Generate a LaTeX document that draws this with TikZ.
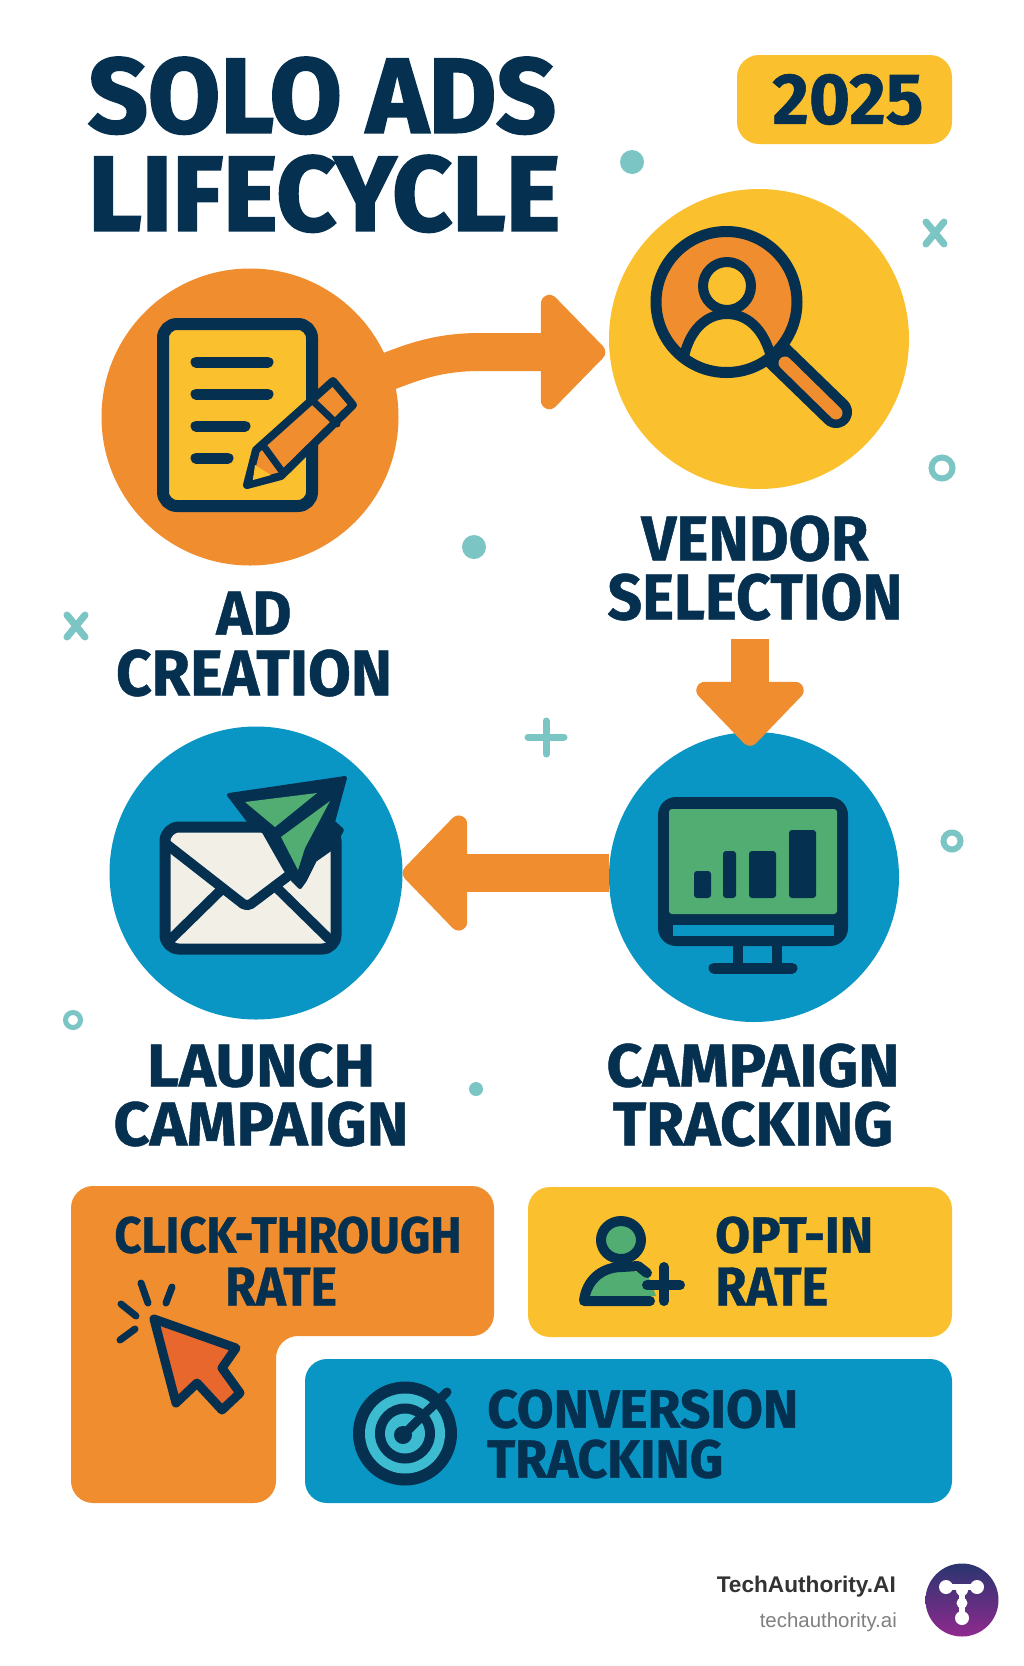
\documentclass[tikz,border=0pt]{standalone}
\usepackage{graphicx}
\usepackage{fontspec}
\usepackage{xcolor}
\setmainfont{Liberation Sans}
\newfontfamily\headfont{Fira Sans Bold}[FakeBold=0.8]
\newfontfamily\bighead{Fira Sans Bold}[FakeBold=2]
\usetikzlibrary{arrows.meta}
\definecolor{navy}{HTML}{05304F}
\definecolor{sunset}{HTML}{F08D2E}
\definecolor{amber}{HTML}{FBC02D}
\definecolor{ocean}{HTML}{0A96C4}
\definecolor{mint}{HTML}{7CC5C5}
\definecolor{leaf}{HTML}{52AD72}
\definecolor{paper}{HTML}{F2F0E6}
\definecolor{ember}{HTML}{E8672D}
\definecolor{aqua}{HTML}{3DBBD0}
\definecolor{logotop}{HTML}{2A3570}
\definecolor{logobottom}{HTML}{8F2A8E}
\newcommand{\capline}[3]{\resizebox*{#1pt}{#2pt}{\headfont #3}}
\newcommand{\bigline}[3]{\resizebox*{#1pt}{#2pt}{\bighead #3}}

\begin{document}
\begin{tikzpicture}[x=1pt,y=-1pt,
    stagedisc/.style={shape=circle, inner sep=0pt, minimum size=#1},
    tilebox/.style={shape=rectangle, rounded corners=22pt, inner sep=0pt},
    headtext/.style={inner sep=0pt, align=center, text=navy},
    lefttext/.style={inner sep=0pt, align=left, text=navy, anchor=west},
    flow/.style={draw=sunset, line width=38pt,
        -{Triangle[length=68pt,width=#1,round]}},
    iconline/.style={draw=navy, line width=#1, line join=round, line cap=round},
    speck/.style={draw=mint, line width=7pt, line cap=round}]

    \fill[white] (0,0) rectangle (1024,1666);
    \useasboundingbox (0,0) rectangle (1024,1666);

    \node[headtext, align=left, anchor=north west] (title) at (88,57)
        {\bigline{468}{77}{SOLO ADS}\\[20pt]\bigline{472}{77}{LIFECYCLE}};
    \node[tilebox, fill=amber, minimum width=215pt, minimum height=89pt] (yearbox) at (844.5,99.5)
        {\hspace*{7pt}\textcolor{navy}{\capline{151}{51}{2025}}};

    \node[stagedisc=297pt, fill=sunset] (adcircle) at (250,417) {};
    \node[stagedisc=300pt, fill=amber] (vendorcircle) at (759,339) {};
    \node[stagedisc=293pt, fill=ocean] (launchcircle) at (256,873) {};
    \node[stagedisc=290pt, fill=ocean] (trackcircle) at (754,877) {};

    \node[headtext] (adlabel) at (254,644) {\capline{75}{43}{AD}\\[14pt]\capline{276}{47}{CREATION}};
    \node[headtext] (vendorlabel) at (755,568) {\capline{227}{46}{VENDOR}\\[11pt]\capline{295}{47}{SELECTION}};
    \node[headtext] (launchlabel) at (261,1095) {\capline{228}{44}{LAUNCH}\\[13pt]\capline{295}{45}{CAMPAIGN}};
    \node[headtext] (tracklabel) at (753,1095) {\capline{293}{44}{CAMPAIGN}\\[13pt]\capline{280}{45}{TRACKING}};

    \coordinate (downstart) at (750,639);
    \draw[flow=135pt] ([xshift=-8pt,yshift=6pt]adcircle.15) .. controls (415,361) and (440,352) .. (480,352) -- ([xshift=-4pt]vendorcircle.185);
    \draw[flow=126pt] (downstart) -- ([xshift=-4pt,yshift=-14pt]trackcircle.north);
    \draw[flow=136pt] (trackcircle.west |- launchcircle.east) -- (launchcircle.east);

    \foreach \px/\py/\pr in {632/162/12, 474/547/12, 476/1089/7}
        \fill[mint] (\px,\py) circle (\pr pt);
    \foreach \px/\py/\pr/\pw in {942/468/10.5/6, 952/841/8.5/6, 73/1020/7.5/5}
        \draw[mint, line width=\pw pt] (\px,\py) circle (\pr pt);
    \foreach \px/\py in {935/233, 76/626} {
        \draw[speck] (\px-9,\py-11) -- (\px+9,\py+11);
        \draw[speck] (\px+9,\py-11) -- (\px-9,\py+11);
    }
    \draw[speck] (528,737) -- (564,737);
    \draw[speck] (546,721) -- (546,754);

    \draw[iconline=12pt, fill=amber, rounded corners=14pt] (163,324) rectangle (312,506);
    \foreach \ly/\lx in {362/268, 394/268, 426/245, 458/228}
        \draw[iconline=11pt] (196,\ly) -- (\lx,\ly);
    \draw[iconline=8pt, fill=sunset] (247,485) -- (256,450) -- (333,381) -- (353,405) -- (281,476) -- cycle;
    \fill[amber] (255,465) -- (271,475) -- (253,480) -- cycle;
    \draw[iconline=7pt] (265,448) -- (281,470);
    \draw[iconline=7pt] (312,400) -- (337,424);

    \draw[iconline=32pt] (772,350) -- (836,412);
    \draw[draw=sunset, line width=13pt, line cap=round] (785,363) -- (836,413);
    \fill[sunset] (726.5,302) circle (72pt);
    \begin{scope}
        \clip (726.5,302) circle (72pt);
        \draw[iconline=10pt, fill=amber] (683,362) .. controls (687,335) and (703,314) .. (727,314)
            .. controls (751,314) and (767,335) .. (772,362) -- (790,400) -- (670,400) -- cycle;
    \end{scope}
    \draw[iconline=10pt, fill=amber] (727,286) circle (24pt);
    \draw[iconline=11pt] (726.5,302) circle (70.5pt);

    \draw[iconline=11pt, fill=paper, rounded corners=14pt] (165,827) rectangle (336,949);
    \draw[iconline=10pt, rounded corners=5pt] (165,843) -- (247,907) -- (296,870);
    \draw[iconline=10pt] (172,938) -- (222,889);
    \draw[iconline=10pt] (328,938) -- (276,887);
    \draw[iconline=4pt, fill=navy] (229,795) -- (345,778) -- (333,822) -- (342,830) -- (332,848) -- (315,860) -- (305,880)
        -- (300,887) -- (293,880) -- (285,869) -- (264,832) -- (248,820) -- cycle;
    \fill[leaf] (245,802) -- (317,793) -- (275,827) -- cycle;
    \fill[leaf] (330,801) -- (281,837) -- (298,870) -- (305,848) -- cycle;

    \fill[navy, rounded corners=18pt] (658,797) rectangle (848,946);
    \fill[leaf, rounded corners=3pt] (669,809) rectangle (837,914);
    \fill[ocean] (673,925) rectangle (834,936);
    \foreach \bl/\bt/\br in {694/871/711, 723/851/736, 749/851/776, 789/830/816}
        \fill[navy, rounded corners=3pt] (\bl,\bt) rectangle (\br,898);
    \draw[iconline=10pt] (738,946) -- (738,964);
    \draw[iconline=10pt] (777,946) -- (777,964);
    \draw[iconline=11pt] (714,968) -- (792,968);

    \fill[sunset, rounded corners=22pt] (71,1186) -- (494,1186) -- (494,1336) -- (276,1336) -- (276,1503) -- (71,1503) -- cycle;
    \node[tilebox, fill=amber, minimum width=424pt, minimum height=150pt] (optbox) at (740,1262) {};
    \node[tilebox, fill=ocean, minimum width=647pt, minimum height=144pt] (convbox) at (628.5,1431) {};

    \node[headtext] (clicklabel) at (288,1261) {\capline{347}{37}{CLICK-THROUGH}\\[13pt]\capline{112}{38}{RATE}\hspace*{14pt}};
    \node[lefttext] (optlabel) at (715,1261) {\capline{158}{37}{OPT-IN}\\[13pt]\capline{113}{38}{RATE}};
    \node[lefttext] (convlabel) at (487,1434) {\capline{311}{39}{CONVERSION}\\[10pt]\capline{236}{39}{TRACKING}};

    \draw[iconline=9pt, fill=ember] (154,1319) -- (236,1348) -- (222,1368) -- (240,1393) -- (222,1410) -- (197,1383) -- (176,1403) -- cycle;
    \draw[iconline=7pt] (141,1283) -- (148,1303);
    \draw[iconline=7pt] (172,1287) -- (166,1303);
    \draw[iconline=7pt] (121,1304) -- (136,1316);
    \draw[iconline=7pt] (135,1329) -- (120,1340);

    \fill[leaf] (586,1298) .. controls (588,1282) and (602,1268) .. (622,1268) -- (648,1275) -- (656,1296) -- cycle;
    \draw[iconline=10pt] (650,1301) -- (584,1301) .. controls (586,1282) and (600,1267) .. (622,1267) -- (638,1266) -- (647,1273);
    \draw[iconline=10pt, fill=leaf] (621,1240) ellipse (20pt and 19pt);
    \draw[iconline=10pt] (647,1285) -- (680,1285);
    \draw[iconline=10pt] (664,1267) -- (664,1301);

    \foreach \tr/\tc in {52/navy, 40/aqua, 30/navy, 20/aqua}
        \fill[\tc] (405,1433.5) circle (\tr pt);
    \fill[navy] (403,1435) circle (9pt);
    \draw[iconline=9pt] (403,1435) -- (447,1392);

    \node[inner sep=0pt, anchor=east, text=black!80] (brandname) at (896,1587)
        {\resizebox{179pt}{!}{\bfseries TechAuthority.AI}};
    \node[inner sep=0pt, anchor=east, text=black!50] (brandsite) at (897,1622)
        {\resizebox{137pt}{!}{techauthority.ai}};
    \node[stagedisc=73pt, top color=logotop, bottom color=logobottom] (brandlogo) at (962,1600) {};
    \draw[white, line width=6pt] (946,1587) -- (977,1587);
    \draw[white, line width=6pt] (962,1587) -- (962,1618);
    \foreach \kx/\ky/\kr in {946/1587/7, 977/1587/7, 962/1590/6, 962/1603/5.5, 962/1618/7}
        \fill[white] (\kx,\ky) circle (\kr pt);
\end{tikzpicture}
\end{document}
